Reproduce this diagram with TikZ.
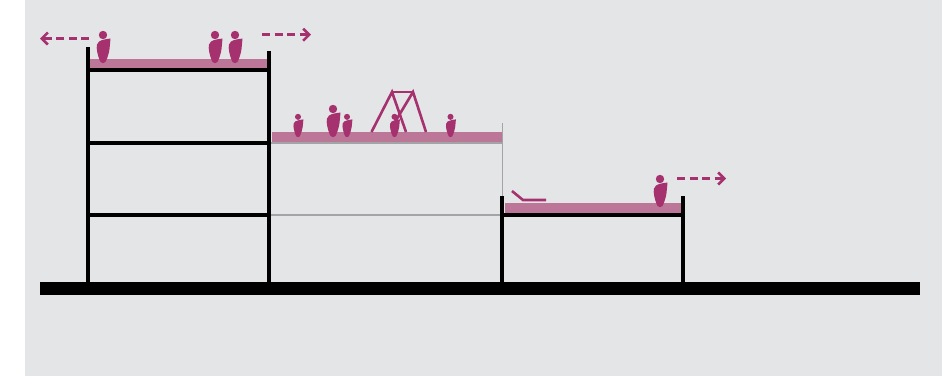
\documentclass[tikz,border=0pt]{standalone}
\usepackage{tikz}
\usetikzlibrary{arrows.meta}
\definecolor{backgrey}{HTML}{E4E5E7}
\definecolor{plum}{HTML}{A5326F}
\definecolor{slabpink}{HTML}{BC7697}
\definecolor{thingrey}{HTML}{A3A4A6}
\tikzset{
  wall/.style={line width=4.8pt, black},
  floorline/.style={line width=4.8pt, black},
  thinline/.style={line width=1.2pt, thingrey},
  slab/.style={fill=slabpink, draw=none},
  frame/.style={line width=2.6pt, plum},
  walkway/.style={line width=3.2pt, plum, dash pattern=on 8pt off 4.5pt, -{Straight Barb[length=6pt,width=12pt,line width=2.6pt]}},
  person/.pic={
    \fill[plum] (0,-28) circle (4.2);
    \fill[plum] (7.5,-24.5) .. controls (4,-24) and (-1,-23.5) .. (-4,-21.5)
      .. controls (-6,-20) and (-6.6,-17) .. (-6.3,-15)
      .. controls (-6,-10) and (-4,-4) .. (-2.5,-1)
      .. controls (-1.2,0.5) and (1.2,0.5) .. (2.5,-1)
      .. controls (4.5,-5) and (6,-10) .. (6.5,-14)
      .. controls (6.8,-17) and (7.3,-21) .. (7.5,-24.5) -- cycle;
  }
}
\begin{document}
\begin{tikzpicture}[x=1pt,y=-1pt]
  \useasboundingbox (0,0) rectangle (951,376);
  \fill[backgrey] (25,0) rectangle (942,376);
  % slabs
  \fill[slab] (90,59) rectangle (268,68);
  \fill[slab] (272,132) rectangle (502,142);
  \fill[slab] (505,203) rectangle (682,213);
  % thin lines
  \draw[thinline] (271,143) -- (502.5,143);
  \draw[thinline] (502.5,123) -- (502.5,197);
  \draw[thinline] (271,215) -- (502,215);
  % frame
  \draw[wall] (88,47) -- (88,283);
  \draw[wall] (269,51) -- (269,283);
  \draw[wall] (502,196) -- (502,283);
  \draw[wall] (683,196) -- (683,283);
  \draw[floorline] (88,70) -- (269,70);
  \draw[floorline] (88,143) -- (269,143);
  \draw[floorline] (88,215) -- (269,215);
  \draw[floorline] (502,215) -- (683,215);
  \fill[black] (40,281.5) rectangle (920,294.5);
  % swing
  \draw[frame] (371.5,132) -- (392,92) -- (406,132);
  \draw[frame] (392,92) -- (413,92);
  \draw[frame] (426,132) -- (413,92) -- (395,122);
  % lounger
  \draw[frame] (512,191) -- (523,200) -- (546,200);
  % people
  \foreach \px in {103,215,235}
    \pic at (\px,63) {person};
  \pic at (333,137) {person};
  \foreach \px in {298,347,394.5,450.5}
    \pic[scale=0.72] at (\px,137) {person};
  \pic at (660,207) {person};
  % walkways
  \coordinate (leftstart) at (89,38.5);
  \coordinate (leftend) at (40,38.5);
  \coordinate (rightstart) at (262,34.7);
  \coordinate (rightend) at (311,34.7);
  \coordinate (lowstart) at (677,178.5);
  \coordinate (lowend) at (726,178.5);
  \draw[walkway] (leftstart) -- (leftend);
  \draw[walkway] (rightstart) -- (rightend);
  \draw[walkway] (lowstart) -- (lowend);
\end{tikzpicture}
\end{document}
